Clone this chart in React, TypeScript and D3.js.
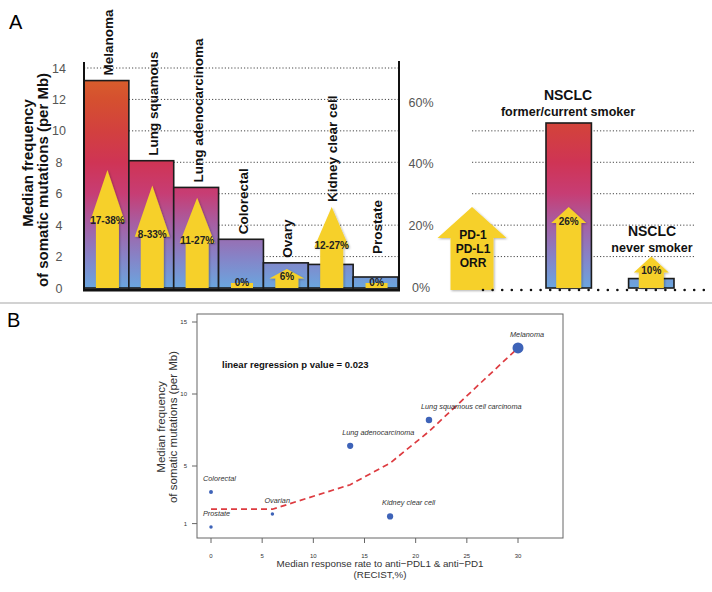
import * as d3 from "d3";

// ---- panel A data ----
const cancers = ["Melanoma", "Lung squamous", "Lung adenocarcinoma", "Colorectal", "Ovary", "Kidney clear cell", "Prostate"];
const mutationFreq = [13.2, 8.1, 6.4, 3.1, 1.6, 1.5, 0.7];
const orrUpper = [38, 33, 29, 0, 6, 26, 0];
const orrLabels = ["17-38%", "8-33%", "11-27%", "0%", "6%", "12-27%", "0%"];

const nsclcGroups = ["former/current smoker", "never smoker"];
const nsclcFreq = [10.5, 0.6];
const nsclcOrr = [26, 10];
const nsclcOrrLabels = ["26%", "10%"];
const pdOrr = 26;
const pdLines = ["PD-1", "PD-L1", "ORR"];

const mutTicks = [0, 2, 4, 6, 8, 10, 12, 14];
const orrTicks = [0, 20, 40, 60];

// ---- panel B data ----
const scatterNames = ["Melanoma", "Lung squamous cell carcinoma", "Lung adenocarcinoma", "Colorectal", "Ovarian", "Kidney clear cell", "Prostate"];
const scatterResponse = [30, 21.3, 13.6, 0, 6, 17.5, 0];
const scatterMutation = [13.2, 8.2, 6.4, 3.2, 1.67, 1.5, 0.76];
const scatterWeight = [100, 34, 32, 13, 10, 32, 10];
const fitResponse = [0, 6, 13.6, 17.5, 21.3, 30];
const fitMutation = [2.0, 2.0, 3.7, 5.2, 7.4, 13.2];
const xTicksB = [0, 5, 10, 15, 20, 25, 30];
const yTicksB = [1, 5, 10, 15];

const FONT = "'Liberation Sans', Arial, Helvetica, sans-serif";
const YELLOW = "#f6d02a";

function arrowPath(cx: number, tip: number, base: number, shaftW: number, headW: number, headLen: number) {
  const p = d3.path();
  const hb = tip + headLen;
  p.moveTo(cx - shaftW / 2, base);
  p.lineTo(cx - shaftW / 2, hb);
  p.lineTo(cx - headW / 2, hb);
  p.lineTo(cx, tip);
  p.lineTo(cx + headW / 2, hb);
  p.lineTo(cx + shaftW / 2, hb);
  p.lineTo(cx + shaftW / 2, base);
  p.closePath();
  return p.toString();
}

export default function App() {
  const yMut = d3.scaleLinear().domain([0, 14]).range([288, 68]);
  const yOrr = d3.scaleLinear().domain([0, 60]).range([287.5, 102]);
  const xBand = d3.scaleBand().domain(cancers).range([84, 398]).padding(0);
  const xNsclc = d3.scaleBand().domain(nsclcGroups).range([546, 674]).paddingInner(0.45);
  const base = yMut(0);

  // panel B
  const bx0 = 197, bx1 = 563, by0 = 314, by1 = 538;
  const xB = d3.scaleLinear().domain([0, 30]).range([211, 518]);
  const yB = d3.scaleLinear().domain([1, 15]).range([523.6, 322]);
  const rB = d3.scaleSqrt().domain([0, d3.max(scatterWeight) as number]).range([0, 5.5]);
  const fitLine = d3
    .line<number>()
    .x((d) => xB(d))
    .y((_, i) => yB(fitMutation[i]));

  const labelLift: Record<string, number> = { Prostate: 18 };

  return (
    <svg width={712} height={592} style={{ position: "absolute", left: 0, top: 0, background: "#fff" }} fontFamily={FONT}>
      <defs>
        <linearGradient id="barGrad" gradientUnits="userSpaceOnUse" x1={0} x2={0} y1={yMut(14)} y2={yMut(0)}>
          <stop offset="0" stopColor="#d9662a" />
          <stop offset="0.14" stopColor="#d5502f" />
          <stop offset="0.29" stopColor="#d2403f" />
          <stop offset="0.43" stopColor="#cf3455" />
          <stop offset="0.57" stopColor="#c73d74" />
          <stop offset="0.71" stopColor="#a65fa3" />
          <stop offset="0.86" stopColor="#8683c7" />
          <stop offset="1" stopColor="#6aa6df" />
        </linearGradient>
        <filter id="shadow" x="-20%" y="-20%" width="140%" height="140%">
          <feDropShadow dx="1" dy="1" stdDeviation="0.8" floodColor="#000" floodOpacity="0.3" />
        </filter>
      </defs>

      {/* ---------- Panel A ---------- */}
      <text x={9} y={29} fontSize={20}>A</text>

      {/* grid lines left */}
      {mutTicks.filter((t) => t > 0).map((t) => (
        <line key={"g" + t} x1={84} x2={399} y1={yMut(t)} y2={yMut(t)} stroke="#333" strokeWidth={0.9} strokeDasharray="1.2,2" />
      ))}
      {/* grid lines right */}
      {mutTicks.filter((t) => t > 0 && t <= 10).map((t) => (
        <line key={"gr" + t} x1={472} x2={694} y1={yMut(t)} y2={yMut(t)} stroke="#333" strokeWidth={0.9} strokeDasharray="1.2,2" />
      ))}

      {/* tick labels */}
      {mutTicks.map((t) => (
        <text key={"lt" + t} x={59} y={yMut(t) + 4.5} fontSize={12.5} fill="#555" textAnchor="middle">{t}</text>
      ))}
      {orrTicks.map((t) => (
        <text key={"rt" + t} x={421} y={yOrr(t) + 4.5} fontSize={12.5} fill="#555" textAnchor="middle">{t}%</text>
      ))}

      {/* y title */}
      <text transform="translate(33,163) rotate(-90)" textAnchor="middle" fontSize={15} fontWeight="bold" fill="#111">Median frequency</text>
      <text transform="translate(48,180) rotate(-90)" textAnchor="middle" fontSize={15} fontWeight="bold" fill="#111">of somatic mutations (per Mb)</text>

      {/* bars */}
      {cancers.map((c, i) => (
        <rect key={"b" + c} x={xBand(c)} y={yMut(mutationFreq[i])} width={xBand.bandwidth()} height={base - yMut(mutationFreq[i])}
          fill="url(#barGrad)" stroke="#1c1c1c" strokeWidth={1.6} />
      ))}

      {/* arrows */}
      {cancers.map((c, i) => {
        const cx = (xBand(c) as number) + xBand.bandwidth() / 2 + 1;
        if (orrUpper[i] === 0) {
          return (
            <g key={"a" + c}>
              <rect x={cx - 11} y={base - 5} width={22} height={5} fill={YELLOW} />
              <text x={cx} y={base - 2} fontSize={10} fontWeight="bold" fill="#222" textAnchor="middle">{orrLabels[i]}</text>
            </g>
          );
        }
        const tip = yOrr(orrUpper[i]);
        const len = base - tip;
        const headLen = Math.min(52, 0.5 * len);
        return (
          <g key={"a" + c}>
            <path d={arrowPath(cx, tip, base, 23, 35, headLen)} fill={YELLOW} filter="url(#shadow)" />
            <text x={cx} y={tip + headLen + 1.5} fontSize={10} fontWeight="bold" fill="#222" textAnchor="middle">{orrLabels[i]}</text>
          </g>
        );
      })}

      {/* category labels */}
      {cancers.map((c, i) => {
        const cx = (xBand(c) as number) + xBand.bandwidth() / 2 + 2;
        const top = Math.min(yMut(mutationFreq[i]), orrUpper[i] > 0 ? yOrr(orrUpper[i]) : Infinity);
        const y0 = top - 5 - (labelLift[c] || 0);
        return (
          <text key={"l" + c} transform={`translate(${cx},${y0}) rotate(-90)`} fontSize={13.5} fontWeight="bold" fill="#111" dominantBaseline="central">{c}</text>
        );
      })}

      {/* axes */}
      <line x1={84} x2={84} y1={62} y2={291} stroke="#111" strokeWidth={2} />
      <line x1={399} x2={399} y1={61} y2={291} stroke="#111" strokeWidth={2} />
      <line x1={83} x2={400} y1={290} y2={290} stroke="#111" strokeWidth={3} />

      {/* PD-1 legend arrow */}
      <path d={arrowPath(472, yOrr(pdOrr), 290, 43, 69, 31)} fill={YELLOW} filter="url(#shadow)" />
      {pdLines.map((t, i) => (
        <text key={t} x={473} y={239 + i * 14} fontSize={12} fontWeight="bold" fill="#111" textAnchor="middle">{t}</text>
      ))}

      {/* NSCLC bars */}
      {nsclcGroups.map((g, i) => (
        <rect key={"nb" + g} x={xNsclc(g)} y={yMut(nsclcFreq[i])} width={xNsclc.bandwidth()} height={base - yMut(nsclcFreq[i])}
          fill="url(#barGrad)" stroke="#1c1c1c" strokeWidth={1.6} />
      ))}
      {nsclcGroups.map((g, i) => {
        const cx = (xNsclc(g) as number) + xNsclc.bandwidth() / 2;
        const tip = yOrr(nsclcOrr[i]);
        const headLen = 16;
        return (
          <g key={"na" + g}>
            <path d={arrowPath(cx, tip, base, 25, 35, headLen)} fill={YELLOW} filter="url(#shadow)" />
            <text x={cx} y={tip + headLen + 1.5} fontSize={10} fontWeight="bold" fill="#222" textAnchor="middle">{nsclcOrrLabels[i]}</text>
          </g>
        );
      })}
      <text x={568} y={100} fontSize={14} fontWeight="bold" fill="#111" textAnchor="middle">NSCLC</text>
      <text x={568} y={116} fontSize={12.5} fontWeight="bold" fill="#111" textAnchor="middle">{nsclcGroups[0]}</text>
      <text x={652} y={236} fontSize={14} fontWeight="bold" fill="#111" textAnchor="middle">NSCLC</text>
      <text x={652} y={252} fontSize={12.5} fontWeight="bold" fill="#111" textAnchor="middle">{nsclcGroups[1]}</text>

      {/* dotted baseline right */}
      <line x1={483} x2={712} y1={290} y2={290} stroke="#111" strokeWidth={2.6} strokeLinecap="round" strokeDasharray="0,9.6" />

      {/* separator */}
      <line x1={0} x2={712} y1={303} y2={303} stroke="#d2d2d2" strokeWidth={2} />

      {/* ---------- Panel B ---------- */}
      <text x={7} y={327} fontSize={20}>B</text>

      <rect x={bx0} y={by0} width={bx1 - bx0} height={by1 - by0} fill="none" stroke="#666" strokeWidth={1} />
      {xTicksB.map((t) => (
        <g key={"xb" + t}>
          <line x1={xB(t)} x2={xB(t)} y1={by1} y2={by1 + 5} stroke="#666" />
          <text x={xB(t)} y={558} fontSize={6} fill="#333" textAnchor="middle">{t}</text>
        </g>
      ))}
      {yTicksB.map((t) => (
        <g key={"yb" + t}>
          <line x1={bx0 - 5} x2={bx0} y1={yB(t)} y2={yB(t)} stroke="#666" />
          <text x={187} y={yB(t) + 2} fontSize={6} fill="#333" textAnchor="end">{t}</text>
        </g>
      ))}

      <text x={380} y={567} fontSize={9.8} fill="#333" textAnchor="middle">Median response rate to anti−PDL1 &amp; anti−PD1</text>
      <text x={380} y={578} fontSize={9.8} fill="#333" textAnchor="middle">(RECIST,%)</text>
      <text transform="translate(165,427) rotate(-90)" fontSize={11.5} fill="#333" textAnchor="middle">Median frequency</text>
      <text transform="translate(177,427) rotate(-90)" fontSize={11.5} fill="#333" textAnchor="middle">of somatic mutations (per Mb)</text>

      <text x={222} y={368} fontSize={9.5} fontWeight="bold" fill="#111">linear regression p value = 0.023</text>

      <path d={fitLine(fitResponse) || ""} fill="none" stroke="#dd3b40" strokeWidth={1.7} strokeDasharray="6,4" />

      {scatterNames.map((n, i) => (
        <g key={"p" + n}>
          <circle cx={xB(scatterResponse[i])} cy={yB(scatterMutation[i])} r={rB(scatterWeight[i])} fill="#3e63b8" />
          <text x={xB(scatterResponse[i]) - 8} y={yB(scatterMutation[i]) - 11} fontSize={7.3} fontStyle="italic" fill="#333">{n}</text>
        </g>
      ))}
    </svg>
  );
}
